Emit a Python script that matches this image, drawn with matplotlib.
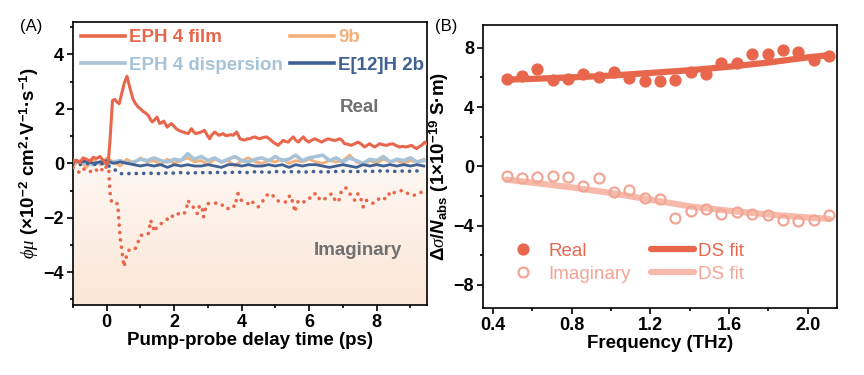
import numpy as np
import matplotlib

matplotlib.use("Agg")
import matplotlib.pyplot as plt
from matplotlib.colors import LinearSegmentedColormap
from matplotlib.ticker import MultipleLocator

plt.rcParams["font.family"] = ["Liberation Sans", "DejaVu Sans"]
plt.rcParams["mathtext.fontset"] = "custom"
plt.rcParams["mathtext.rm"] = "Liberation Sans:bold"
plt.rcParams["mathtext.bf"] = "Liberation Sans:bold"
plt.rcParams["mathtext.it"] = "Liberation Serif:italic"
plt.rcParams["mathtext.bfit"] = "Liberation Sans:bold:italic"
plt.rcParams["axes.linewidth"] = 1.2

# ---- panel A data: photoconductivity vs pump-probe delay ----
film_re_t = [-1.0, -0.9, -0.8, -0.7, -0.6, -0.5, -0.4, -0.3, -0.2, -0.1,
             0.0, 0.05, 0.1, 0.17, 0.24, 0.3, 0.37, 0.45, 0.52, 0.6,
             0.68, 0.78, 0.85, 0.93, 1.0, 1.08, 1.15, 1.23, 1.3, 1.35,
             1.42, 1.49, 1.57, 1.63, 1.69, 1.79, 1.85, 1.92, 2.0, 2.06,
             2.15, 2.26, 2.33, 2.41, 2.51, 2.58, 2.64, 2.72, 2.8, 2.9,
             2.97, 3.05, 3.12, 3.2, 3.27, 3.33, 3.45, 3.52, 3.6, 3.67,
             3.75, 3.85, 3.95, 4.09, 4.17, 4.24, 4.32, 4.39, 4.46, 4.53,
             4.64, 4.74, 4.84, 4.93, 5.0, 5.08, 5.15, 5.23, 5.3, 5.38,
             5.45, 5.53, 5.6, 5.68, 5.75, 5.83, 5.9, 5.98, 6.08, 6.17,
             6.27, 6.37, 6.47, 6.57, 6.67, 6.77, 6.84, 6.9, 6.97, 7.05,
             7.15, 7.25, 7.35, 7.45, 7.55, 7.64, 7.72, 7.79, 7.87, 7.94,
             8.02, 8.09, 8.19, 8.29, 8.39, 8.48, 8.58, 8.68, 8.78, 8.88,
             8.95, 9.03, 9.1, 9.18, 9.25, 9.33, 9.43, 9.5]
film_re = [0.05, 0.12, 0.02, 0.2, 0.15, 0.08, 0.22, 0.18, 0.25, 0.1,
           -0.05, 0.1, 0.9, 2.3, 2.35, 2.25, 2.19, 2.6, 2.95, 3.2,
           2.8, 2.35, 2.2, 2.07, 2.0, 1.9, 1.85, 1.76, 1.6, 1.52,
           1.6, 1.7, 1.46, 1.5, 1.55, 1.33, 1.4, 1.46, 1.35, 1.27,
           1.2, 1.15, 1.12, 1.09, 1.27, 1.15, 1.09, 1.12, 1.15, 1.21,
           1.05, 0.9, 1.05, 1.15, 1.08, 1.03, 1.09, 1.02, 1.03, 1.05,
           1.03, 1.15, 0.9, 0.85, 0.9, 0.9, 0.95, 0.97, 0.93, 0.9,
           0.95, 0.97, 0.88, 0.78, 0.72, 0.66, 0.75, 0.84, 0.8, 0.78,
           0.88, 0.97, 0.85, 0.78, 0.88, 0.97, 0.86, 0.78, 0.85, 0.9,
           0.84, 0.78, 0.85, 0.9, 0.86, 0.84, 0.87, 0.9, 0.85, 0.72,
           0.7, 0.66, 0.72, 0.78, 0.7, 0.6, 0.66, 0.72, 0.65, 0.6,
           0.66, 0.72, 0.68, 0.66, 0.7, 0.72, 0.65, 0.6, 0.62, 0.6,
           0.63, 0.66, 0.6, 0.54, 0.6, 0.66, 0.78, 0.7]

film_im_t = [-1.0, -0.9, -0.8, -0.7, -0.6, -0.5, -0.4, -0.3, -0.2, -0.1,
             0.0, 0.06, 0.08, 0.1, 0.12, 0.15, 0.24, 0.32, 0.34, 0.37,
             0.4, 0.46, 0.51, 0.56, 0.66, 0.75, 0.83, 0.93, 0.97, 1.1,
             1.23, 1.27, 1.3, 1.36, 1.42, 1.49, 1.62, 1.77, 1.87, 2.01,
             2.11, 2.21, 2.34, 2.41, 2.46, 2.54, 2.61, 2.69, 2.75, 2.83,
             2.87, 2.9, 2.97, 3.1, 3.24, 3.39, 3.5, 3.62, 3.74, 3.79,
             3.89, 3.99, 4.09, 4.19, 4.29, 4.39, 4.49, 4.64, 4.74, 4.88,
             5.03, 5.18, 5.33, 5.43, 5.53, 5.57, 5.68, 5.83, 5.98, 6.08,
             6.23, 6.32, 6.47, 6.67, 6.77, 6.87, 6.95, 7.08, 7.2, 7.35,
             7.45, 7.55, 7.6, 7.7, 7.85, 8.0, 8.1, 8.25, 8.35, 8.44,
             8.54, 8.67, 8.79, 8.99, 9.18, 9.38, 9.5]
film_im = [-0.15, -0.25, -0.35, -0.2, -0.25, -0.32, -0.2, -0.25, -0.15, -0.3,
           -0.1, -0.2, -0.75, -1.1, -1.25, -1.46, -1.48, -1.48, -1.75, -2.28,
           -2.77, -3.31, -3.8, -3.5, -3.19, -3.2, -3.17, -2.89, -2.7, -2.58,
           -2.58, -2.34, -2.09, -2.3, -2.52, -2.31, -2.21, -2.09, -1.91, -1.97,
           -1.85, -1.91, -1.79, -1.36, -1.48, -1.55, -1.72, -1.85, -1.54, -1.66,
           -1.97, -1.79, -1.48, -1.48, -1.46, -1.48, -1.66, -1.66, -1.54, -1.6,
           -1.11, -1.36, -1.42, -1.48, -1.36, -1.54, -1.6, -1.36, -1.17, -1.11,
           -1.36, -1.42, -1.42, -1.17, -1.48, -1.79, -1.36, -1.42, -1.36, -1.14,
           -1.11, -1.36, -1.3, -1.11, -1.36, -1.42, -1.05, -0.89, -1.11, -1.36,
           -1.11, -1.36, -1.6, -1.36, -1.48, -1.42, -1.24, -1.3, -1.11, -1.2,
           -1.05, -1.02, -0.99, -1.17, -1.17, -1.02, -1.1]

# near-zero traces sampled every 0.2 ps from -1.0 to 9.4 ps
grid_t = np.round(np.arange(-1.0, 9.41, 0.2), 2)
b9_re = [-0.1, 0.1, -0.15, 0.15, -0.05, 0.2, 0.05, -0.1, 0.15, 0.0,
         0.2, 0.05, 0.1, -0.05, 0.15, 0.0, 0.1, 0.2, 0.05, 0.1,
         -0.05, 0.15, 0.05, 0.1, -0.1, 0.1, 0.2, 0.05, 0.0, 0.1,
         0.05, 0.15, 0.0, 0.1, 0.05, 0.15, 0.05, 0.0, 0.1, 0.05,
         0.1, 0.3, 0.05, -0.05, 0.1, 0.0, 0.15, 0.05, 0.1, 0.0,
         0.1, 0.05, 0.15]
disp_re = [0.1, 0.05, 0.0, -0.05, 0.05, 0.0, 0.05, 0.1, 0.0, 0.05,
           0.15, 0.1, 0.2, 0.1, 0.05, 0.15, 0.1, 0.35, 0.15, 0.25,
           0.1, 0.2, 0.05, 0.15, 0.25, 0.1, 0.05, 0.15, 0.2, 0.1,
           0.25, 0.1, 0.15, 0.3, 0.1, 0.2, 0.25, 0.3, 0.1, 0.2,
           0.05, 0.2, 0.1, 0.0, 0.15, 0.1, 0.25, 0.05, 0.15, 0.1,
           0.2, 0.05, 0.1]
e12_re = [0.1, 0.05, 0.08, 0.0, 0.05, 0.1, 0.0, 0.05, 0.0, -0.05,
          -0.1, -0.05, -0.1, -0.05, -0.15, -0.05, -0.1, -0.05, -0.1, -0.1,
          -0.05, -0.1, -0.15, -0.05, -0.05, -0.1, -0.05, -0.1, -0.1, -0.05,
          -0.1, -0.05, -0.15, -0.05, -0.1, -0.05, -0.05, -0.1, -0.15, -0.1,
          -0.05, -0.1, -0.15, -0.05, -0.1, -0.05, -0.1, -0.05, -0.1, -0.05,
          -0.1, -0.05, -0.1]
e12_im = [0.0, -0.05, 0.0, -0.05, 0.0, -0.05, -0.2, -0.38, -0.38, -0.37,
          -0.38, -0.36, -0.37, -0.38, -0.35, -0.36, -0.34, -0.36, -0.35, -0.34,
          -0.35, -0.33, -0.34, -0.35, -0.32, -0.33, -0.34, -0.31, -0.32, -0.33,
          -0.3, -0.32, -0.31, -0.3, -0.33, -0.31, -0.3, -0.32, -0.31, -0.3,
          -0.29, -0.3, -0.31, -0.28, -0.3, -0.29, -0.27, -0.29, -0.3, -0.28,
          -0.29, -0.28, -0.27]

# ---- panel B data: THz conductivity spectrum ----
freq = [0.47, 0.548, 0.626, 0.704, 0.782, 0.86, 0.938, 1.016, 1.094, 1.172, 1.25,
        1.328, 1.406, 1.484, 1.562, 1.64, 1.718, 1.796, 1.874, 1.952, 2.03, 2.108]
sig_re = [5.88, 6.06, 6.57, 5.83, 5.92, 6.23, 6.01, 6.37, 5.99, 5.77, 5.77,
          5.83, 6.35, 6.21, 7.0, 7.0, 7.58, 7.55, 7.84, 7.73, 7.17, 7.44]
sig_im = [-0.67, -0.78, -0.74, -0.63, -0.69, -1.3, -0.8, -1.72, -1.63, -2.15, -2.2,
          -3.48, -2.99, -2.85, -3.21, -3.06, -3.21, -3.28, -3.64, -3.71, -3.6, -3.3]
fit_f = [0.47, 0.6, 0.8, 1.0, 1.2, 1.4, 1.6, 1.8, 2.0, 2.11]
fit_re = [5.85, 5.9, 6.0, 6.12, 6.3, 6.48, 6.72, 7.0, 7.35, 7.5]
fit_im = [-0.9, -1.1, -1.42, -1.8, -2.25, -2.7, -3.0, -3.25, -3.45, -3.55]

RED = "#E8674C"
ORANGE = "#F5B07A"
LBLUE = "#A8C3D8"
DBLUE = "#3F6193"
PINK = "#F3A595"
PINKFIT = "#F6B9AA"
GRAY = "#707070"
DOTS = (0, (0.05, 2.0))

fig = plt.figure(figsize=(8.64, 3.75), dpi=100)
axA = fig.add_axes([0.0845, 0.187, 0.410, 0.755])
axB = fig.add_axes([0.559, 0.179, 0.410, 0.755])

# ---------- panel A ----------
xlo, xhi, ylo, yhi = -1.0, 9.5, -5.2, 5.2
peach = LinearSegmentedColormap.from_list("peach", ["#FEF8F3", "#FCE6D7"])
axA.imshow(np.linspace(0, 1, 100)[:, None], cmap=peach, aspect="auto",
           extent=[xlo, xhi, ylo, 0], origin="upper", zorder=0)

axA.plot(grid_t, b9_re, color=ORANGE, lw=2.0, label="9b", zorder=2)
axA.plot(grid_t, disp_re, color=LBLUE, lw=2.6, label="EPH 4 dispersion", zorder=3)
axA.plot(grid_t, e12_re, color=DBLUE, lw=2.0, label="E[12]H 2b", zorder=4)
axA.plot(grid_t, e12_im, color=DBLUE, lw=2.6, ls=DOTS,
         dash_capstyle="round", zorder=4)
axA.plot(film_im_t, film_im, color=RED, lw=2.6, ls=DOTS,
         dash_capstyle="round", zorder=5)
axA.plot(film_re_t, film_re, color=RED, lw=2.2, label="EPH 4 film", zorder=6)

axA.text(7.5, 2.05, "Real", color=GRAY, fontsize=13.5, fontweight="bold",
         ha="center", va="center")
axA.text(7.45, -3.2, "Imaginary", color=GRAY, fontsize=13.5, fontweight="bold",
         ha="center", va="center")

h, l = axA.get_legend_handles_labels()
order = [3, 1, 0, 2]
legA = axA.legend([h[i] for i in order], [l[i] for i in order], ncol=2,
                  loc="upper left", bbox_to_anchor=(0.0, 1.0), frameon=False,
                  prop={"weight": "bold", "size": 13.5}, labelcolor="linecolor",
                  handlelength=2.35, handletextpad=0.25, columnspacing=0.35,
                  labelspacing=0.55, borderpad=0.3, borderaxespad=0.1)
for line in legA.get_lines():
    line.set_linewidth(2.6)

axA.set_xlim(xlo, xhi)
axA.set_ylim(ylo, yhi)
axA.set_xticks([0, 2, 4, 6, 8])
axA.set_yticks([-4, -2, 0, 2, 4])
axA.set_yticklabels(["\u22124", "\u22122", "0", "2", "4"])
axA.xaxis.set_minor_locator(MultipleLocator(1))
axA.yaxis.set_minor_locator(MultipleLocator(1))
axA.set_xlabel("Pump-probe delay time (ps)", fontsize=13.5, fontweight="bold",
               labelpad=1)
axA.set_ylabel(r"$\mathit{\phi\mu}$ (×10$^{-2}$ cm$^{2}$·V$^{-1}$·s$^{-1}$)",
               fontsize=13.5, fontweight="bold", labelpad=2)
axA.text(-0.15, 0.982, "(A)", transform=axA.transAxes, fontsize=12,
         ha="left", va="center")

# ---------- panel B ----------
axB.plot(fit_f, fit_re, color=RED, lw=4.5, solid_capstyle="round",
         label="DS fit", zorder=2)
axB.plot(fit_f, fit_im, color=PINKFIT, lw=4.5, solid_capstyle="round",
         label="DS fit", zorder=2)
axB.plot(freq, sig_re, "o", color=RED, ms=7.8, label="Real", zorder=3)
axB.plot(freq, sig_im, "o", mfc="none", mec=PINK, mew=1.6, ms=7.2,
         label="Imaginary", zorder=3)

hb, lb = axB.get_legend_handles_labels()
orderB = [2, 3, 0, 1]
axB.legend([hb[i] for i in orderB], [lb[i] for i in orderB], ncol=2,
           loc="center left", bbox_to_anchor=(0.025, 0.16), frameon=False,
           prop={"size": 13.5}, labelcolor=[RED, PINK, RED, PINK],
           handlelength=2.3, handletextpad=0.2, columnspacing=1.1,
           labelspacing=0.3, borderpad=0.0)

axB.set_xlim(0.35, 2.15)
axB.set_ylim(-9.55, 9.55)
axB.set_xticks([0.4, 0.8, 1.2, 1.6, 2.0])
axB.set_xticklabels(["0.4", "0.8", "1.2", "1.6", "2.0"])
axB.set_yticks([-8, -4, 0, 4, 8])
axB.set_yticklabels(["\u22128", "\u22124", "0", "4", "8"])
axB.xaxis.set_minor_locator(MultipleLocator(0.2))
axB.yaxis.set_minor_locator(MultipleLocator(2))
axB.set_xlabel("Frequency (THz)", fontsize=13.5, fontweight="bold", labelpad=1)
axB.set_ylabel(r"$\Delta\mathit{\sigma}/\mathbfit{N}_{\mathregular{abs}}$ (1×10$^{-19}$ S·m)",
               fontsize=13.5, fontweight="bold", labelpad=2)
axB.text(-0.135, 0.993, "(B)", transform=axB.transAxes, fontsize=12,
         ha="left", va="center")

for ax in (axA, axB):
    ax.tick_params(which="both", direction="out", width=1.2, labelsize=13)
    ax.tick_params(which="major", length=4.5, pad=2)
    ax.tick_params(which="minor", length=2.5)
    for lab in ax.get_xticklabels() + ax.get_yticklabels():
        lab.set_fontweight("bold")

fig.savefig("out.png", dpi=100)
